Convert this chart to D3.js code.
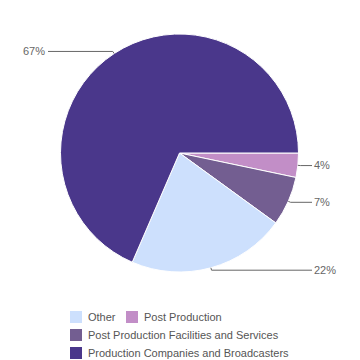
<!DOCTYPE html>
<html><head><meta charset="utf-8">
<script src="https://cdn.jsdelivr.net/npm/d3@7"></script>
<style>body{margin:0;background:#fff}svg{display:block;font-family:"Liberation Sans",Arial,sans-serif}</style>
</head><body><svg id="c" width="360" height="360"></svg>
<script>
const categories = ["Post Production", "Post Production Facilities and Services", "Other", "Production Companies and Broadcasters"];
const values = [3.3, 6.7, 21.5, 68.5];
const labels = ["4%", "7%", "22%", "67%"];
const colors = ["#c28ec7", "#735e91", "#cde0fd", "#4a378b"];
const legendOrder = ["Other", "Post Production", "Post Production Facilities and Services", "Production Companies and Broadcasters"];

const svg = d3.select("#c");
const cx = 179.5, cy = 153, r = 119;
const color = d3.scaleOrdinal().domain(categories).range(colors);
const pie = d3.pie().sort(null).value(d => d.v).startAngle(Math.PI/2).endAngle(Math.PI/2 + 2*Math.PI);
const data = pie(categories.map((c,i)=>({c, v: values[i], l: labels[i]})));
const arc = d3.arc().innerRadius(0).outerRadius(r);
const g = svg.append("g").attr("transform", `translate(${cx},${cy})`);
g.selectAll("path").data(data).enter().append("path")
  .attr("d", arc).attr("fill", d => color(d.data.c))
  .attr("stroke", "#fff").attr("stroke-width", 1);

data.forEach(d => {
  const a = (d.startAngle + d.endAngle)/2;
  const px = Math.sin(a)*r, py = -Math.cos(a)*r;
  const r2 = r + 2.5;
  const qx = Math.sin(a)*r2, qy = -Math.cos(a)*r2;
  const right = px > 0;
  const ex = right ? 312 - cx : 48 - cx;
  g.append("polyline").attr("points", `${px},${py} ${qx},${qy} ${ex},${qy}`)
    .attr("fill", "none").attr("stroke", "#666").attr("stroke-width", 1);
  g.append("text").attr("x", right ? ex + 2 : ex - 3).attr("y", qy).attr("dy", "0.35em")
    .attr("text-anchor", right ? "start" : "end")
    .attr("font-size", 11).attr("fill", "#666")
    .text(d.data.l);
});

const legendPos = [[70,311],[126,311],[70,329],[70,347]];
legendOrder.forEach((c,i) => {
  const [x,y] = legendPos[i];
  svg.append("rect").attr("x", x).attr("y", y).attr("width", 12).attr("height", 12).attr("fill", color(c));
  svg.append("text").attr("x", x + 18).attr("y", y + 6).attr("dy", "0.35em")
    .attr("font-size", 11).attr("fill", "#555").text(c);
});
</script></body></html>
